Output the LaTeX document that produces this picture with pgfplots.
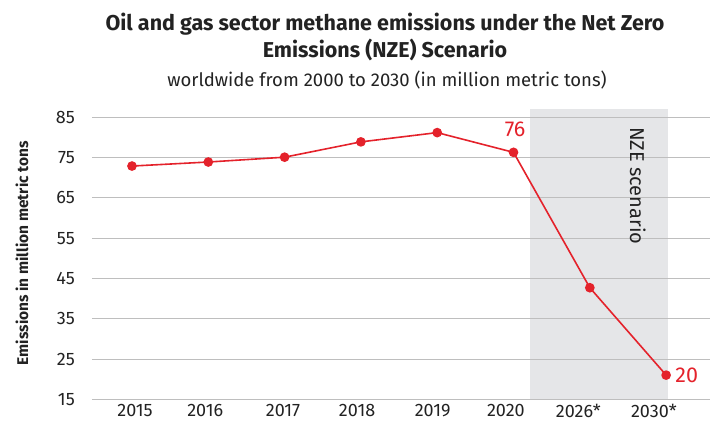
\documentclass[border=0pt]{standalone}
\usepackage{pgfplots}
\pgfplotsset{compat=1.18}
\usepackage{fontspec}
\setmainfont{Fira Sans}
\definecolor{sred}{HTML}{E4222B}
\definecolor{sgray}{HTML}{E5E6E8}
\definecolor{sgrid}{HTML}{BEBEBE}
\definecolor{stext}{HTML}{222222}
\begin{document}
\begin{tikzpicture}
\begin{axis}[
  set layers=standard,
  scale only axis,
  width=618pt, height=282pt,
  xmin=-0.524, xmax=7.575,
  ymin=15, ymax=85,
  clip=false,
  axis line style={draw=none},
  major tick length=0pt,
  ytick={15,25,35,45,55,65,75,85},
  xtick={0.04,0.96,1.98,2.95,3.94,4.90,5.85,6.84},
  xticklabels={2015,2016,2017,2018,2019,2020,2026*,2030*},
  ymajorgrids,
  grid style={color=sgrid, line width=0.8pt},
  /pgf/number format/assume math mode=true,
  tick label style={font=\fontsize{18}{20}\selectfont, text=stext},
  yticklabel style={anchor=east, inner sep=0pt, xshift=-17pt},
  xticklabel style={anchor=north, inner sep=0pt, yshift=-5pt},
]
\addplot[on layer=axis background, fill=sgray, draw=none]
  coordinates {(5.22,15) (5.22,87.1) (7.02,87.1) (7.02,15)} -- cycle;
\addplot[color=sred, line width=1.6pt, mark=*, mark size=4pt, mark options={fill=sred, draw=sred}]
  coordinates {(0,72.9) (1,73.9) (2,75.1) (3,78.9) (4,81.2) (5,76.3) (6,42.7) (7,21.0)};
\node[text=sred, font=\fontsize{21.5}{24}\selectfont, anchor=south, inner sep=0pt] at (axis cs:5.02,80.2) {76};
\node[text=sred, font=\fontsize{21.5}{24}\selectfont, anchor=west, inner sep=0pt] at (axis cs:7.12,21.0) {20};
\node[rotate=-90, anchor=west, inner sep=0pt, text=stext, font=\fontsize{20}{22}\selectfont] at (axis cs:6.63,82.6) {NZE scenario};
\end{axis}
\path[use as bounding box] (-92pt,-23.7pt) rectangle (625pt,399.3pt);
\node[font=\bfseries\fontsize{21.5}{24}\selectfont, text=stext] at (293pt,375pt) {Oil and gas sector methane emissions under the Net Zero};
\node[font=\bfseries\fontsize{21.5}{24}\selectfont, text=stext] at (293pt,349.5pt) {Emissions (NZE) Scenario};
\node[font=\fontsize{18.5}{22}\selectfont, text=stext] at (295pt,319pt) {worldwide from 2000 to 2030 (in million metric tons)};
\node[rotate=90, font=\bfseries\fontsize{15.5}{18}\selectfont, text=stext] at (-70pt,146pt) {Emissions in million metric tons};
\end{tikzpicture}
\end{document}
